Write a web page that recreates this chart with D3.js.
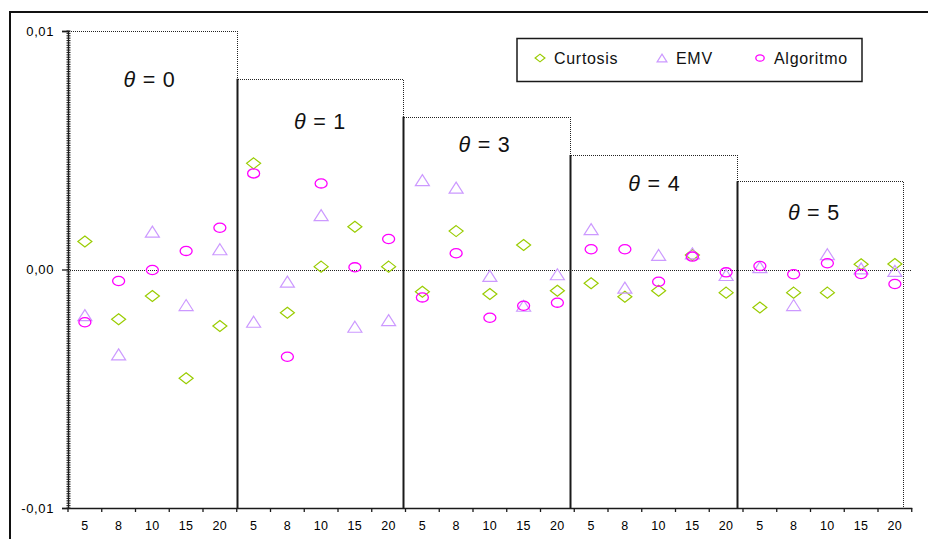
<!DOCTYPE html>
<html>
<head>
<meta charset="utf-8">
<script src="https://cdn.jsdelivr.net/npm/d3@7"></script>
<style>
  html, body { margin: 0; padding: 0; background: #fff; }
  svg { display: block; font-family: "Liberation Sans", Arial, sans-serif; }
</style>
</head>
<body>
<svg id="chart" width="928" height="539"></svg>
<script>
// Sample sizes within each θ group, and the θ groups themselves
const sizes = ["5", "8", "10", "15", "20"];
const thetas = [0, 1, 3, 4, 5];
const yTicks = [-0.01, 0, 0.01];

// Deviations per method, in group order (θ = 0, 1, 3, 4, 5), five sizes each
const curtosis = [
   0.00117, -0.00209, -0.00111, -0.00456, -0.00237,
   0.00445, -0.00181,  0.00012,  0.00179,  0.00012,
  -0.00093,  0.00161, -0.00103,  0.00103, -0.00089,
  -0.00058, -0.00114, -0.00089,  0.00061, -0.00097,
  -0.00159, -0.00097, -0.00097,  0.00022,  0.00023
];
const emv = [
  -0.00191, -0.00356,  0.00159, -0.00149,  0.00085,
  -0.00219, -0.00051,  0.00228, -0.00240, -0.00212,
   0.00375,  0.00343, -0.00027, -0.00152, -0.00020,
   0.00169, -0.00076,  0.00061,  0.00068, -0.00023,
   0.00010, -0.00149,  0.00064,  0.00005, -0.00006
];
const algoritmo = [
  -0.00221, -0.00048, -0.00002,  0.00078,  0.00175,
   0.00403, -0.00366,  0.00361,  0.00009,  0.00128,
  -0.00117,  0.00068, -0.00202, -0.00152, -0.00139,
   0.00085,  0.00085, -0.00051,  0.00054, -0.00012,
   0.00015, -0.00020,  0.00026, -0.00019, -0.00061
];
// Height of the frame drawn around each θ group
const groupTops = [0.01, 0.008, 0.0064, 0.0048, 0.0037];

// ---- layout ----
const plotLeft = 68, plotRight = 911.75, plotTop = 31, plotBottom = 508;
// frame edges for the groups, measured in category widths from the y axis
const frameEdges = [0, 5.007, 9.93, 14.87, 19.82, 24.74];
// how far each θ caption sits below its frame top (px)
const captionDrop = [56, 50, 35, 36, 39];
const captionShift = [-3, 0, -2, 1, -6];

const keys = [];
thetas.forEach((t, g) => sizes.forEach((s, i) => keys.push(g + "-" + s)));

const x = d3.scaleBand().domain(keys).range([plotLeft, plotRight]).padding(0);
const xc = d3.scaleLinear().domain([0, keys.length]).range([plotLeft, plotRight]);
const y = d3.scaleLinear().domain([-0.01, 0.01]).range([plotBottom, plotTop]);

const svg = d3.select("#chart");
const ink = "#1a1a1a";
const dotted = sel => sel.attr("stroke", "#222").attr("stroke-width", 1)
  .attr("stroke-dasharray", "1,1").attr("shape-rendering", "crispEdges");

// outer chart frame
svg.append("rect").attr("x", 10).attr("y", 12).attr("width", 940).attr("height", 560)
  .attr("fill", "#fff").attr("stroke", "#111").attr("stroke-width", 2);

// dotted frames around each group
const frames = svg.append("g");
thetas.forEach((t, g) => {
  const x0 = Math.round(xc(frameEdges[g])) + 0.5, x1 = Math.round(xc(frameEdges[g + 1])) + 0.5;
  const yt = Math.round(y(groupTops[g])) + 0.5;
  frames.append("path")
    .attr("d", `M${x0},${yt}H${x1}V${y(-0.01)}`)
    .attr("fill", "none").call(dotted);
});

// zero reference line
svg.append("line").attr("x1", plotLeft).attr("x2", plotRight)
  .attr("y1", Math.round(y(0)) + 0.5).attr("y2", Math.round(y(0)) + 0.5).call(dotted);

// x axis with ticks between categories
const xAxis = d3.axisBottom(x).tickSize(0).tickFormat(k => k.split("-")[1]);
const gx = svg.append("g").attr("transform", `translate(0,${plotBottom})`).call(xAxis);
gx.select(".domain").attr("stroke", ink).attr("stroke-width", 1.3);
gx.selectAll(".tick text").attr("dy", "1.55em").attr("font-size", 12.5).attr("fill", "#000")
  .attr("font-family", "Liberation Sans, Arial, sans-serif").attr("letter-spacing", 0.5);
gx.append("g").selectAll("line").data(d3.range(keys.length + 1)).join("line")
  .attr("x1", d => xc(d)).attr("x2", d => xc(d)).attr("y1", 0).attr("y2", 4)
  .attr("stroke", ink).attr("stroke-width", 1.3);

// y axis with dense minor ticks
const yAxis = d3.axisLeft(y).tickValues(yTicks).tickSize(6)
  .tickFormat(d => d3.format(".2f")(d).replace(".", ",").replace("−", "-"));
const gy = svg.append("g").attr("transform", `translate(${plotLeft},0)`).call(yAxis);
gy.select(".domain").attr("stroke", ink).attr("stroke-width", 1.3);
gy.selectAll(".tick line").attr("stroke", ink).attr("stroke-width", 1.3);
gy.selectAll(".tick text").attr("font-size", 13).attr("fill", "#000").attr("x", -14)
  .attr("font-family", "Liberation Sans, Arial, sans-serif").attr("letter-spacing", 0.6);
gy.append("g").selectAll("line").data(d3.range(-100, 101)).join("line")
  .attr("x1", -1.5).attr("x2", 2.5)
  .attr("y1", d => y(d / 10000)).attr("y2", d => y(d / 10000))
  .attr("stroke", "#222").attr("stroke-width", 1.1);

// solid separators at the left edge of each group after the first
thetas.forEach((t, g) => {
  if (g === 0) return;
  const xs = Math.round(xc(frameEdges[g])) + 0.5;
  svg.append("line").attr("x1", xs).attr("x2", xs)
    .attr("y1", y(groupTops[g])).attr("y2", y(-0.01))
    .attr("stroke", ink).attr("stroke-width", 2);
});

// θ captions
thetas.forEach((t, g) => {
  const cx = (xc(frameEdges[g]) + xc(frameEdges[g + 1])) / 2 + captionShift[g];
  const txt = svg.append("text").attr("x", cx).attr("y", y(groupTops[g]) + captionDrop[g])
    .attr("text-anchor", "middle").attr("font-size", 21.5).attr("fill", "#111")
    .attr("letter-spacing", 0.8);
  txt.append("tspan").attr("font-style", "italic").text("θ");
  txt.append("tspan").text(" = " + t);
});

// marker shapes
const shapes = {
  diamond: (s) => `M0,${-5.5 * s}L${7 * s},0L0,${5.5 * s}L${-7 * s},0Z`,
  triangle: (s) => `M0,${-5.5 * s}L${7 * s},${5.5 * s}L${-7 * s},${5.5 * s}Z`
};
const series = [
  { name: "Curtosis", values: curtosis, color: "#99CC00", shape: "diamond" },
  { name: "EMV", values: emv, color: "#CC99FF", shape: "triangle" },
  { name: "Algoritmo", values: algoritmo, color: "#FF00FF", shape: "circle" }
];

function drawMarker(sel, sr, s) {
  if (sr.shape === "circle") {
    sel.append("ellipse").attr("rx", 6 * s).attr("ry", 4.6 * s)
      .attr("fill", "none").attr("stroke", sr.color).attr("stroke-width", 1.3);
  } else {
    sel.append("path").attr("d", shapes[sr.shape](s))
      .attr("fill", "none").attr("stroke", sr.color).attr("stroke-width", 1.2);
  }
}

series.forEach(sr => {
  const g = svg.append("g");
  keys.forEach((k, i) => {
    const m = g.append("g")
      .attr("transform", `translate(${x(k) + x.bandwidth() / 2},${y(sr.values[i])})`);
    drawMarker(m, sr, 1);
  });
});

// legend
const lg = svg.append("g");
lg.append("rect").attr("x", 517).attr("y", 38.5).attr("width", 345).attr("height", 43)
  .attr("fill", "#fff").attr("stroke", ink).attr("stroke-width", 1.5);
const legendX = [540, 662, 760];
series.forEach((sr, i) => {
  const m = lg.append("g").attr("transform", `translate(${legendX[i]},58)`);
  drawMarker(m, sr, 0.7);
  lg.append("text").attr("x", legendX[i] + 14).attr("y", 63.5)
    .attr("font-size", 16).attr("fill", "#111").attr("letter-spacing", 0.7)
    .text(sr.name);
});
</script>
</body>
</html>
